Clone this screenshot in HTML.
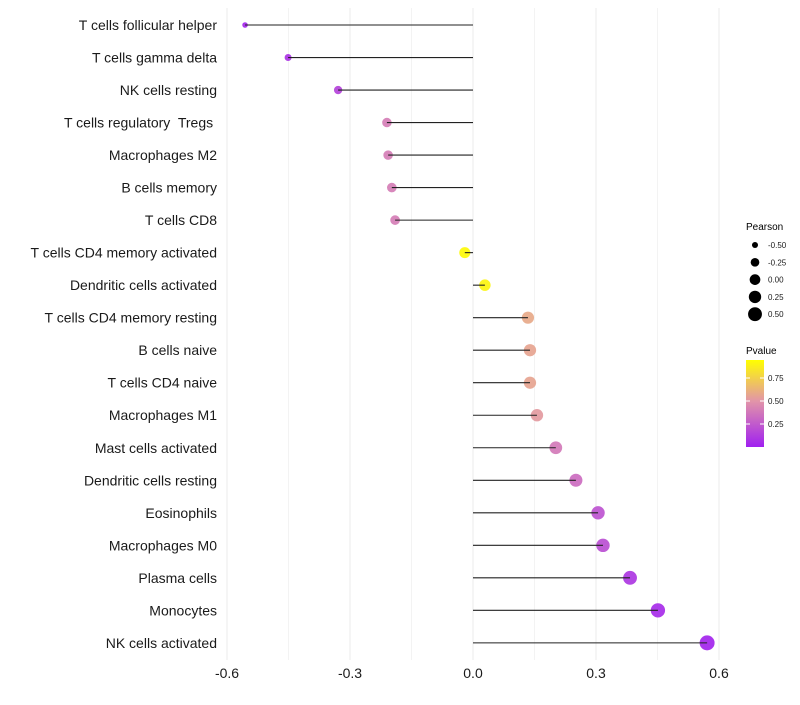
<!DOCTYPE html>
<html><head><meta charset="utf-8"><style>
body{margin:0;background:#fff;font-family:"Liberation Sans",sans-serif}
text{white-space:pre}
</style></head><body>
<svg id="chart" width="800" height="700" xmlns="http://www.w3.org/2000/svg" font-family="Liberation Sans, sans-serif">
<defs><linearGradient id="pg" x1="0" y1="1" x2="0" y2="0">
<stop offset="0" stop-color="#a020f0"/><stop offset="0.53" stop-color="#e295a8"/><stop offset="1" stop-color="#ffff00"/></linearGradient></defs>
<g id="grid"></g>
<g id="points"></g>
<g id="stems"></g>
<g id="ylabels"></g>
<g id="xlabels"></g>
<g>
<text x="746" y="230" font-size="10">Pearson</text>
<g id="sizeleg"></g>
</g>
<g>
<text x="746" y="354" font-size="10">Pvalue</text>
<rect x="746" y="360" width="18" height="87" fill="url(#pg)"/>
<g id="colleg"></g>
</g>
</svg>
<script>
const categories=["T cells follicular helper","T cells gamma delta","NK cells resting","T cells regulatory  Tregs ","Macrophages M2","B cells memory","T cells CD8","T cells CD4 memory activated","Dendritic cells activated","T cells CD4 memory resting","B cells naive","T cells CD4 naive","Macrophages M1","Mast cells activated","Dendritic cells resting","Eosinophils","Macrophages M0","Plasma cells","Monocytes","NK cells activated"];
const pearson=[-0.556,-0.451,-0.329,-0.21,-0.207,-0.198,-0.19,-0.02,0.029,0.134,0.139,0.139,0.156,0.202,0.251,0.305,0.317,0.383,0.451,0.571];
const pvalues=[0.03,0.08,0.15,0.4,0.4,0.4,0.4,0.92,0.9,0.58,0.56,0.56,0.52,0.38,0.33,0.22,0.2,0.1,0.05,0.02];
const xTicks=[-0.6,-0.3,0,0.3,0.6];
const xTickLabels=["-0.6","-0.3","0.0","0.3","0.6"];
const sizeLegend=[-0.5,-0.25,0,0.25,0.5];
const sizeLegendLabels=["-0.50","-0.25","0.00","0.25","0.50"];
const colorLegend=[0.75,0.5,0.25];
const colorLegendLabels=["0.75","0.50","0.25"];
const NS="http://www.w3.org/2000/svg";
const xs=v=>473+v*410;
const ys=i=>25+i*32.52;
const rs=v=>Math.sqrt(Math.max(2,31.6+43*v));
const pcol=v=>{const a=[160,32,240],m=[226,149,168],b=[255,255,0];let t=Math.max(0,Math.min(1,v/0.94));let c=t<0.53?a.map((x,k)=>x+(m[k]-x)*t/0.53):m.map((x,k)=>x+(b[k]-x)*(t-0.53)/0.47);return `rgb(${c.map(Math.round).join(",")})`;};
const py=v=>447-v*92;
function mk(t,at,p){const e=document.createElementNS(NS,t);for(const k in at)e.setAttribute(k,at[k]);p.appendChild(e);return e;}
const grid=document.getElementById('grid');
for(let k=0;k<9;k++){const v=-0.6+k*0.15;const l=mk('line',{x1:xs(v),x2:xs(v),y1:8,y2:660,stroke:k%2?'#f3f3f3':'#ebebeb','stroke-width':1},grid);

}
const pts=document.getElementById('points'),stems=document.getElementById('stems'),yl=document.getElementById('ylabels'),xl=document.getElementById('xlabels');
categories.forEach((c,i)=>{
const d=mk('circle',{cx:xs(pearson[i]),cy:ys(i),r:rs(pearson[i]),fill:pcol(pvalues[i]),'fill-opacity':0.92},pts);


const s=mk('line',{x1:xs(0),x2:xs(pearson[i]),y1:ys(i),y2:ys(i),stroke:'#222','stroke-width':1.1},stems);


const t=mk('text',{x:217,y:ys(i)+5,'text-anchor':'end','font-size':14,fill:'#1a1a1a'},yl);t.textContent=c;


});
xTicks.forEach((v,i)=>{const t=mk('text',{x:xs(v),y:678,'text-anchor':'middle','font-size':14,fill:'#1a1a1a'},xl);t.textContent=xTickLabels[i];

});
const sl=document.getElementById('sizeleg');
sizeLegend.forEach((v,i)=>{const y=245+i*17.3;mk('circle',{cx:755,cy:y,r:rs(v)*0.95,fill:'#000'},sl);
const t=mk('text',{x:768,y:y+3,'font-size':8,fill:'#1a1a1a'},sl);t.textContent=sizeLegendLabels[i];

});
const cl=document.getElementById('colleg');
colorLegend.forEach((v,i)=>{const y=py(v);mk('line',{x1:746,x2:750,y1:y,y2:y,stroke:'#fff'},cl);mk('line',{x1:760,x2:764,y1:y,y2:y,stroke:'#fff'},cl);
const t=mk('text',{x:768,y:y+3,'font-size':8,fill:'#1a1a1a'},cl);t.textContent=colorLegendLabels[i];

});
</script>
</body></html>
